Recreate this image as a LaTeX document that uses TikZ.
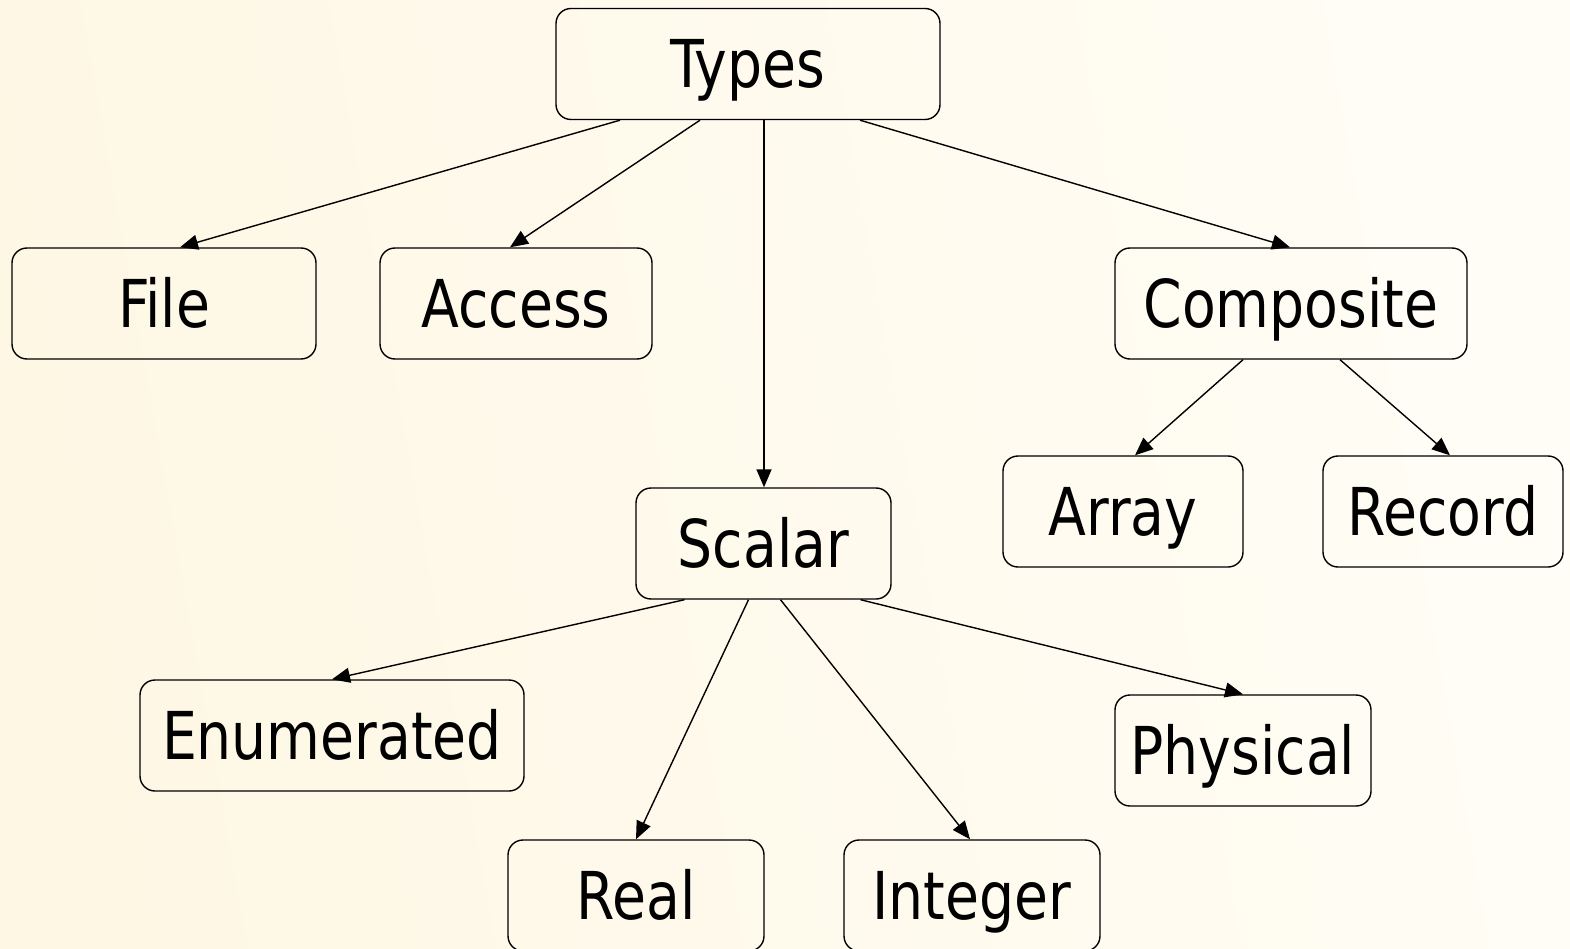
\documentclass[tikz,border=0pt]{standalone}
\usepackage{fontspec}
\setmainfont[FakeStretch=0.93]{DejaVu Sans Condensed}
\usetikzlibrary{arrows.meta}
\definecolor{bgleft}{RGB}{254,247,228}
\definecolor{bgright}{RGB}{255,253,246}
\begin{document}
\begin{tikzpicture}[x=1pt,y=-1pt,
  typebox/.style={draw, line width=1.4pt, rounded corners=15pt, inner sep=0pt,
    minimum height=111pt, font=\fontsize{66pt}{70pt}\selectfont,
    text height=48pt, text depth=0pt},
  link/.style={line width=1.4pt, -{Triangle[length=18pt,width=15pt]}}]
  % backdrop with a soft left-to-right warm shade
  \shade[left color=bgleft, right color=bgright, shading angle=100]
    (0,0) rectangle (1570,949);
  \useasboundingbox (0,0) rectangle (1570,949);

  \node[typebox, minimum width=384pt] (types) at (748,64) {Types};
  \node[typebox, minimum width=304pt] (file) at (164,303.5) {File};
  \node[typebox, minimum width=272pt] (access) at (516,303.5) {Access};
  \node[typebox, minimum width=352pt] (composite) at (1291,303.5) {Composite};
  \node[typebox, minimum width=255pt] (scalar) at (763.5,543.5) {Scalar};
  \node[typebox, minimum width=240pt] (array) at (1123,511.5) {Array};
  \node[typebox, minimum width=240pt] (record) at (1443,511.5) {Record};
  \node[typebox, minimum width=384pt] (enum) at (332,735.5) {Enumerated};
  \node[typebox, minimum width=256pt] (physical) at (1243,750.5) {Physical};
  \node[typebox, minimum width=256pt] (real) at (636,895.5) {Real};
  \node[typebox, minimum width=256pt] (integer) at (972,895.5) {Integer};

  \draw[link] ([xshift=-128pt]types.south) -- ([xshift=16pt]file.north);
  \draw[link] ([xshift=-48pt]types.south) -- ([xshift=-6pt]access.north);
  \draw[link] ([xshift=16pt]types.south) -- ([xshift=0.5pt]scalar.north);
  \draw[link] ([xshift=112pt]types.south) -- ([xshift=-1pt]composite.north);

  \draw[link] ([xshift=-48pt]composite.south) -- ([xshift=12pt]array.north);
  \draw[link] ([xshift=49pt]composite.south) -- ([xshift=7pt]record.north);

  \draw[link] ([xshift=-79pt]scalar.south) -- (enum.north);
  \draw[link] ([xshift=-15pt]scalar.south) -- (real.north);
  \draw[link] ([xshift=17pt]scalar.south) -- ([xshift=-2pt]integer.north);
  \draw[link] ([xshift=97pt]scalar.south) -- (physical.north);
\end{tikzpicture}
\end{document}
